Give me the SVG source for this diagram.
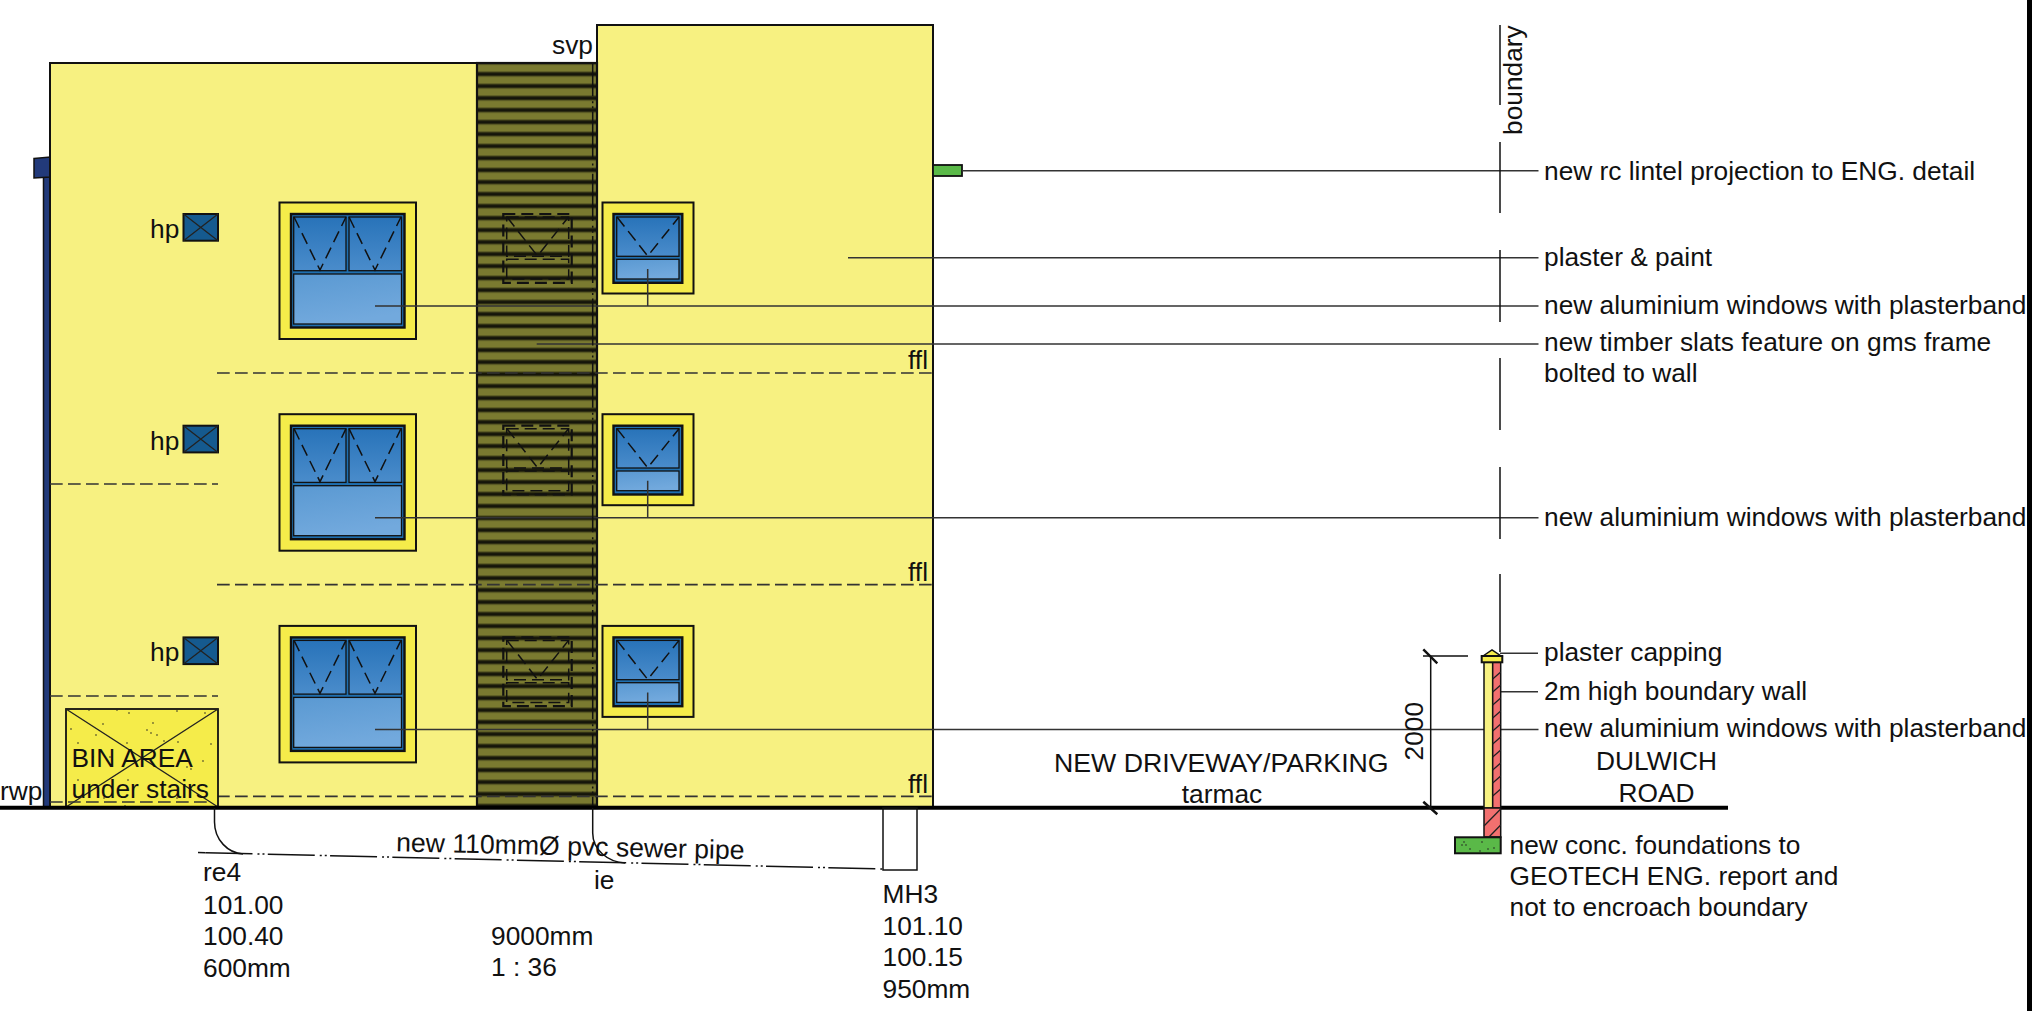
<svg xmlns="http://www.w3.org/2000/svg" width="2036" height="1011" viewBox="0 0 2036 1011">
<style>
text{font-family:"Liberation Sans",Arial,sans-serif;font-size:26.3px;fill:#111}
.o{stroke:#111;fill:none}
.t{stroke:#222;stroke-width:1.3;fill:none}
.l{stroke:#333;stroke-width:1.5;fill:none}
.ffl{stroke:#333;stroke-width:1.7;stroke-dasharray:12.7 5.3;fill:none}
.d{stroke:#111;stroke-width:1.5;stroke-dasharray:12 6;fill:none}
.wall{fill:#f7f181;stroke:#111;stroke-width:2}
.band{fill:#f5ec4a;stroke:#111;stroke-width:2}
.frame{fill:#1f6fb0;stroke:#111;stroke-width:2.4}
.pt{fill:url(#gt);stroke:#111;stroke-width:1.3}
.pb{fill:url(#gb);stroke:#111;stroke-width:1.3}
.dots{stroke:#222;stroke-width:1.6;stroke-linecap:round;fill:none}
.cl{stroke:#111;stroke-width:1.5;stroke-dasharray:47 5 2 3 2 3.3;fill:none}
</style>
<defs>
<linearGradient id="gt" x1="0" y1="0" x2="0" y2="1"><stop offset="0" stop-color="#2873b9"/><stop offset="1" stop-color="#4a8ccb"/></linearGradient>
<linearGradient id="gb" x1="0" y1="0" x2="0.3" y2="1"><stop offset="0" stop-color="#5a99d2"/><stop offset="1" stop-color="#72a9dd"/></linearGradient>
<pattern id="slat" patternUnits="userSpaceOnUse" x="477" y="66.3" width="120" height="12">
<rect width="120" height="12" fill="#7a7a30"/>
<rect y="5.300" width="120" height="5" fill="#44441a"/>
<rect y="6.300" width="120" height="3" fill="#15150a"/>
</pattern>
<g id="winL">
<rect class="band" x="279.5" y="202.5" width="136.500" height="136.500"/>
<rect class="frame" x="291" y="214" width="113.500" height="113.500"/>
<rect class="pt" x="293.700" y="217" width="52.300" height="53.700"/>
<rect class="pt" x="349" y="217" width="52.500" height="53.700"/>
<rect class="pb" x="293.700" y="274" width="107.800" height="50"/>
<path class="d" d="M294 217L320 270L346 217M349 217L375 270L401 217"/>
</g>
<g id="winS">
<rect class="band" x="602.500" y="202.500" width="91" height="91"/>
<rect class="frame" x="613.500" y="214" width="68.800" height="68.800"/>
<rect class="pt" x="616.700" y="217" width="62.300" height="39.300"/>
<rect class="pb" x="616.700" y="259.300" width="62.300" height="19.700"/>
<path class="d" d="M617 217L647.700 256L679 217"/>
</g>
<g id="winD">
<rect class="o" x="503.300" y="214" width="68.400" height="68.800" stroke-width="2.200" stroke-dasharray="12 6"/>
<rect class="d" x="506.700" y="217" width="62" height="39.300"/>
<rect class="d" x="506.700" y="259.300" width="62" height="19.700"/>
<path class="d" d="M507 217L537.500 256L568.500 217"/>
</g>
<g id="hpb">
<rect x="183.500" y="214" width="34.500" height="26.700" fill="#155a8f" stroke="#111" stroke-width="2"/>
<path class="t" d="M183.500 214L218 240.700M218 214L183.500 240.700"/>
</g>
</defs>
<rect width="2036" height="1011" fill="#fff"/>
<rect id="sheet-edge" x="2027" y="0" width="5" height="1011" fill="#000"/>

<g id="rwp">
<rect x="43.500" y="175" width="6.500" height="632" fill="#223a7a" stroke="#111" stroke-width="1.500"/>
<path d="M34 158.500L50 157V177L34 178Z" fill="#223a7a" stroke="#111" stroke-width="1.500"/>
<text x="0" y="800">rwp</text>
</g>
<g id="wall-left"><rect class="wall" x="50" y="63" width="427" height="745"/></g>
<g id="wall-right"><rect class="wall" x="597" y="25" width="336" height="783"/></g>
<g id="slats">
<rect x="477" y="63" width="120" height="745" fill="url(#slat)" stroke="#111" stroke-width="2.200"/>
</g>
<g id="lintel"><rect x="933" y="165" width="29" height="11" fill="#5ab948" stroke="#111" stroke-width="1.800"/></g>

<g id="windows">
<use href="#winL"/><use href="#winL" y="211.700"/><use href="#winL" y="423.400"/>
<use href="#winS"/><use href="#winS" y="211.700"/><use href="#winS" y="423.400"/>
<use href="#winD"/><use href="#winD" y="211.700"/><use href="#winD" y="423.400"/>
</g>
<g id="vents">
<use href="#hpb"/><use href="#hpb" y="211.700"/><use href="#hpb" y="423.400"/>
<text x="150" y="238">hp</text><text x="150" y="449.700">hp</text><text x="150" y="661.400">hp</text>
</g>

<g id="floor-lines">
<path class="ffl" d="M217 373H935M217 584.700H935M217 796.400H935"/>
<path class="ffl" d="M50 484H218M50 696H218"/>
<text x="908" y="369">ffl</text><text x="908" y="581">ffl</text><text x="908" y="792.500">ffl</text>
</g>

<g id="bin-area">
<rect x="66" y="709" width="152" height="98" fill="#f5ec4a" stroke="#111" stroke-width="1.800"/>
<path class="t" d="M66 709L218 807M218 709L66 807"/>
<path class="dots" d="M89 710h0M117 710h0M129 713h0M177 711h0M205 713h0M103 724h0M153 723h0M147 730h0M151 733h0M157 735h0M71 729h0M96 735h0M78 743h0M127 743h0M164 741h0M178 742h0M211 744h0M110 757h0M93 757h0M203 761h0M187 767h0M191 769h0M78 780h0M128 780h0M177 798h0M104 798h0M125 806h0"/>
<path class="ffl" d="M50 802H212"/>
<text x="71.500" y="767">BIN AREA</text><text x="71.500" y="798">under stairs</text>
</g>

<g id="connectors">
<path class="l" d="M962 170.700H1538.500M848 257.700H1538.500M375 306H1538.500M647.700 269V306M536.700 344H1538.500M375 517.700H1538.500M647.700 480.700V517.700M375 729.400H1538.500M647.700 692.400V729.400M1500 653.300H1538M1500 691.700H1538"/>
<path class="cl" stroke-dashoffset="13.800" d="M592.700 63V808"/>
</g>

<g id="ground"><path d="M0 807.700H1728" stroke="#000" stroke-width="4" fill="none"/></g>

<g id="boundary">
<path class="o" stroke-width="1.500" d="M1500 25V105M1500 142V213M1500 250V322M1500 358V430M1500 467V539M1500 574V652"/>
<text transform="translate(1522 135) rotate(-90)">boundary</text>
</g>

<g id="boundary-wall">
<rect x="1484" y="662" width="8.700" height="146" fill="#f7f181" stroke="#111" stroke-width="1.500"/>
<rect x="1492.700" y="662" width="8" height="146" fill="#f2706f" stroke="#111" stroke-width="1.500"/>
<rect x="1484" y="808" width="16.700" height="29" fill="#f2706f" stroke="#111" stroke-width="1.500"/>
<path class="t" d="M1492.700 679L1500.700 672M1492.700 692L1500.700 685M1492.700 705L1500.700 698M1492.700 718L1500.700 711M1492.700 731L1500.700 724M1492.700 744L1500.700 737M1492.700 757L1500.700 750M1492.700 770L1500.700 763M1492.700 783L1500.700 776M1492.700 796L1500.700 789M1484 826L1500.700 809M1489 837L1500.700 825"/>
<path d="M1483 656L1492 650L1501 656Z" fill="#f5ec4a" stroke="#111" stroke-width="1.500"/>
<rect x="1481.700" y="656" width="20.600" height="6.300" fill="#f5ec4a" stroke="#111" stroke-width="2"/>
<rect x="1455" y="837.300" width="45.700" height="16" fill="#5ab948" stroke="#111" stroke-width="2"/>
<path class="dots" d="M1464 842h0M1466 845h0M1462 845h0M1470 849h0M1482 842h0M1488 849h0M1494 848h0M1480 851h0"/>
</g>

<g id="dimension">
<path class="o" stroke-width="1.500" d="M1423 656H1468M1430.700 656V808"/>
<path class="o" stroke-width="2.500" d="M1423.300 649.300L1437.300 663.300M1423.300 801.700L1437.300 814.300"/>
<text transform="translate(1423.300 760.500) rotate(-90)">2000</text>
</g>

<g id="drainage">
<path class="o" stroke-width="1.500" d="M198 852.500L205.500 852.700"/>
<path class="cl" d="M205.500 852.700L883 869"/>
<path class="o" stroke-width="1.500" d="M214.500 808V822C214.500 840 228 853 243 854"/>
<path class="o" stroke-width="1.500" d="M592.700 808V833C592.700 850 608 862 625 863"/>
<rect class="o" stroke-width="1.500" x="883" y="808" width="34" height="62"/>
<text transform="rotate(1.300 396 851.300)" x="396" y="851.300" style="font-size:26.600px">new 110mmØ pvc sewer pipe</text>
<text x="594" y="888.700">ie</text>
<text x="203" y="881.300">re4</text><text x="203" y="913.700">101.00</text><text x="203" y="944.700">100.40</text><text x="203" y="977">600mm</text>
<text x="491" y="944.700">9000mm</text><text x="491" y="976.300">1 : 36</text>
<text x="882.500" y="903">MH3</text><text x="882.500" y="935">101.10</text><text x="882.500" y="966">100.15</text><text x="882.500" y="997.600">950mm</text>
</g>

<g id="labels">
<text x="552" y="54.300">svp</text>
<text x="1544" y="179.500">new rc lintel projection to ENG. detail</text>
<text x="1544" y="265.500">plaster &amp; paint</text>
<text x="1544" y="313.500">new aluminium windows with plasterband</text>
<text x="1544" y="350.500">new timber slats feature on gms frame</text>
<text x="1544" y="382">bolted to wall</text>
<text x="1544" y="525.500">new aluminium windows with plasterband</text>
<text x="1544" y="661">plaster capping</text>
<text x="1544" y="699.500">2m high boundary wall</text>
<text x="1544" y="737">new aluminium windows with plasterband</text>
<text x="1656.500" y="769.500" text-anchor="middle">DULWICH</text>
<text x="1656.500" y="801.500" text-anchor="middle">ROAD</text>
<text x="1509.500" y="853.500">new conc. foundations to</text>
<text x="1509.500" y="884.500">GEOTECH ENG. report and</text>
<text x="1509.500" y="915.500">not to encroach boundary</text>
<text x="1054" y="771.500" style="font-size:26.700px">NEW DRIVEWAY/PARKING</text>
<text x="1222" y="802.500" text-anchor="middle">tarmac</text>
</g>
</svg>
